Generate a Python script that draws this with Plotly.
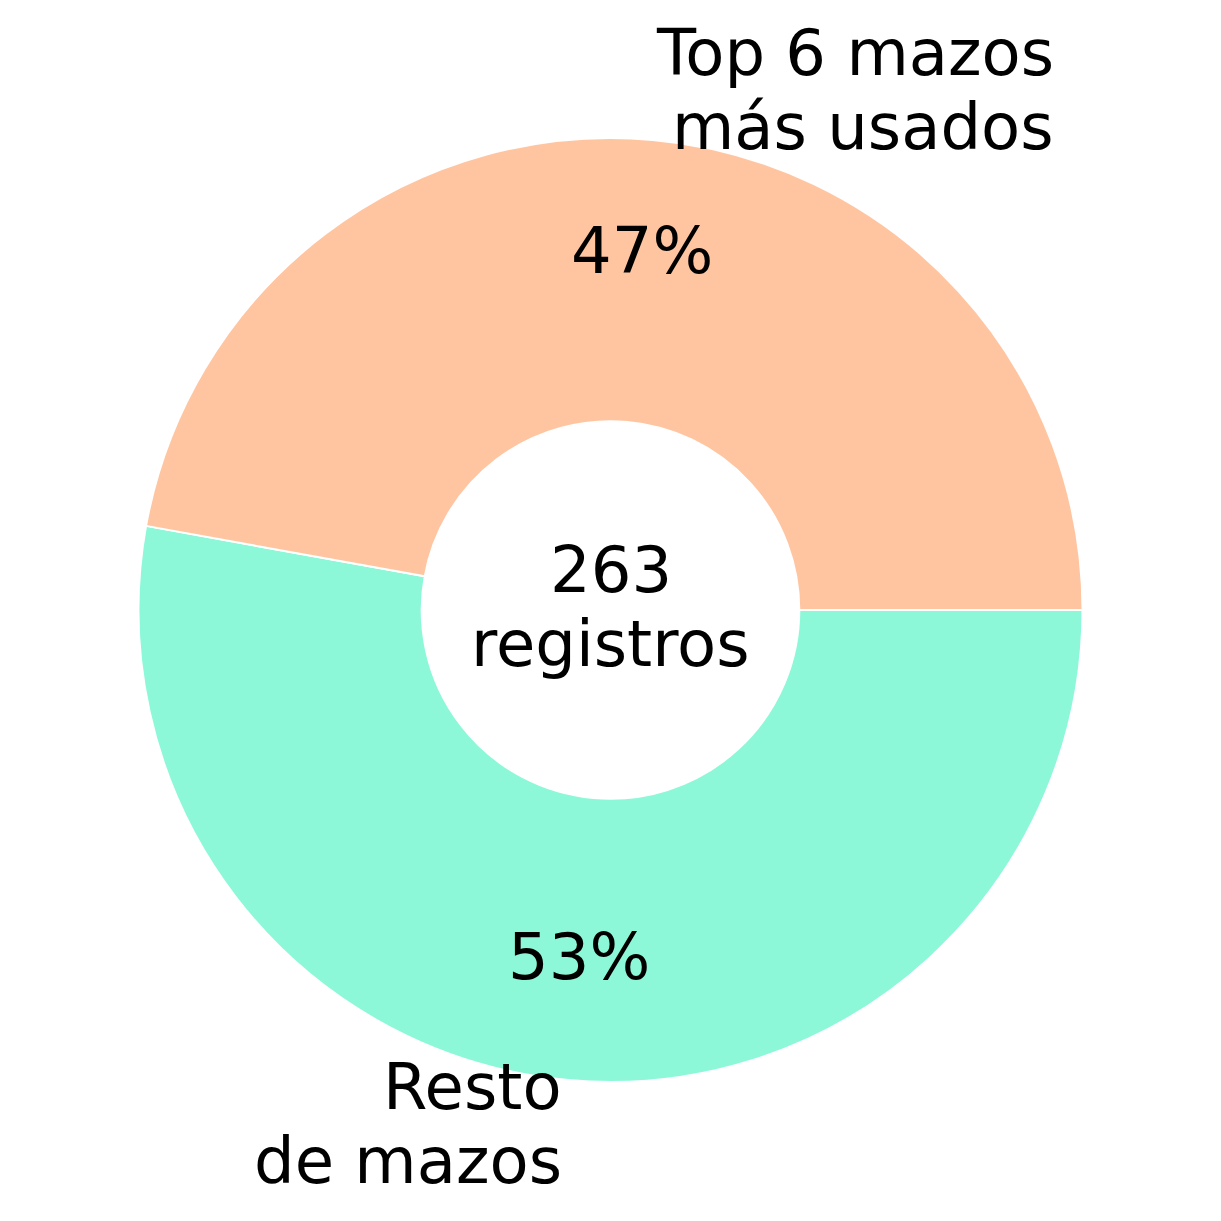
import math
import plotly.graph_objects as go

# ---- data ----
labels = ["Top 6 mazos", "Resto de mazos"]
label_lines = [["Top 6 mazos", "más usados"], ["Resto", "de mazos"]]
values = [124, 139]
colors = ["#FFC5A1", "#8DF8D8"]
center_word = "registros"

# ---- layout constants ----
W = H = 1221
CX, CY = 610.5, 610.0   # pie centre in px (from top-left)
R = 472.0               # outer radius px
HOLE = 0.4
FS = 64
LINE = 74
FONT = "DejaVu Sans"

# approximate DejaVu Sans advance widths (em)
ADV = {"T": .611, "o": .612, "p": .635, " ": .318, "6": .636, "m": .974, "a": .613,
       "z": .525, "s": .521, "á": .613, "u": .634, "d": .635, "R": .695, "e": .615,
       "t": .392}


def text_w(s):
    return sum(ADV.get(c, .6) for c in s) * FS


def paper(x, y):
    return x / W, 1 - y / H


# slices drawn clockwise from 3 o'clock in reverse order == counterclockwise from 0 deg
fig = go.Figure(go.Pie(
    labels=labels[::-1], values=values[::-1], hole=HOLE, sort=False,
    direction="clockwise", rotation=90,
    marker=dict(colors=colors[::-1], line=dict(color="white", width=2)),
    textinfo="none", showlegend=False,
    domain=dict(x=[(CX - R) / W, (CX + R) / W], y=[(H - CY - R) / H, (H - CY + R) / H]),
))

ann = []
font = dict(family=FONT, size=FS, color="black")


def add_lines(lines, ax, ay, xanchor, xpos):
    n = len(lines)
    for i, s in enumerate(lines):
        base = ay + 20 + (i - (n - 1) / 2) * LINE
        yc = base - 23
        px, py = paper(xpos if xpos is not None else ax, yc)
        ann.append(dict(x=px, y=py, xref="paper", yref="paper", text=s, showarrow=False,
                        xanchor=xanchor, yanchor="middle", font=font))


total = sum(values)
start = 0.0
for v, lines in zip(values, label_lines):
    frac = v / total
    mid = math.radians(start + frac * 180.0)
    start += frac * 360.0
    c, s_ = math.cos(mid), math.sin(mid)
    # percentage
    px_, py_ = CX + 0.75 * R * c, CY - 0.75 * R * s_
    add_lines([f"{round(100 * frac)}%"], px_, py_ - 3, "center", None)
    # outer label
    lx, ly = CX + 1.1 * R * c, CY - 1.1 * R * s_
    if c >= 0:
        right = lx + max(text_w(t) for t in lines) - 9
        add_lines(lines, lx, ly, "right", right)
    else:
        add_lines(lines, lx, ly, "right", lx)

add_lines([str(total), center_word], CX, CY, "center", None)

fig.update_layout(
    width=W, height=H, margin=dict(l=0, r=0, t=0, b=0),
    paper_bgcolor="white", plot_bgcolor="white",
    annotations=ann, font=dict(family=FONT),
)

fig.write_html("out.html", config={"displayModeBar": False},
               post_script="document.body.style.margin='0';")
